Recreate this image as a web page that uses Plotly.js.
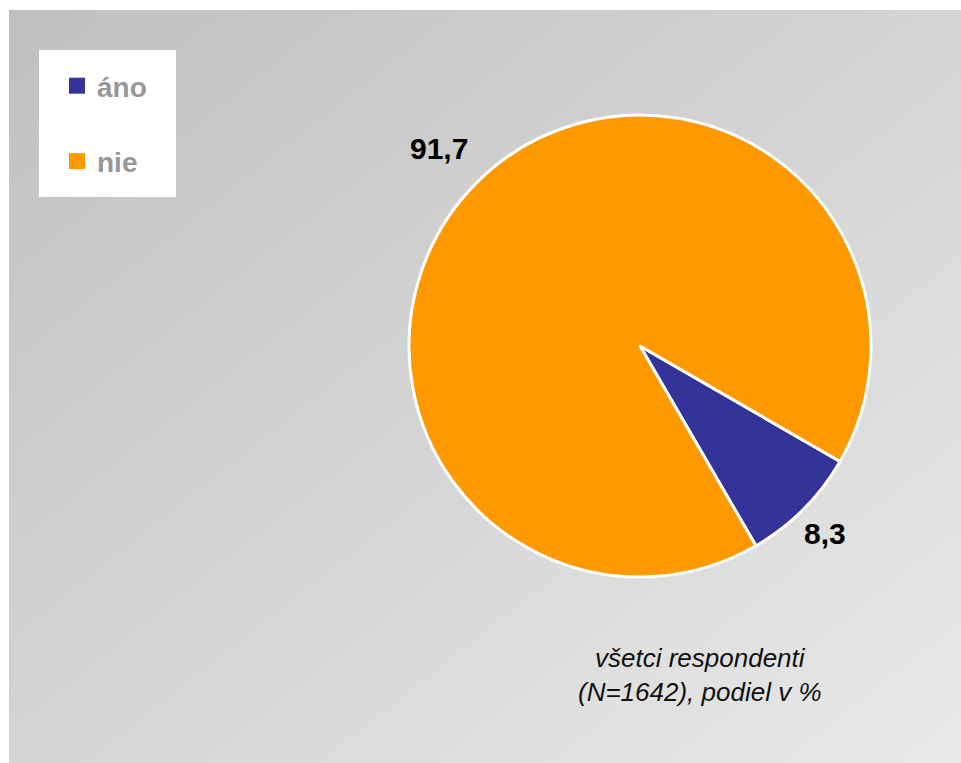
<!DOCTYPE html>
<html>
<head>
<meta charset="utf-8">
<script src="https://cdn.plot.ly/plotly-3.0.1.min.js"></script>
<style>
  html, body { margin: 0; padding: 0; background: #ffffff; }
  #bg { position: absolute; left: 9px; top: 10px; width: 952px; height: 753px;
        background: linear-gradient(to bottom right, #c0c0c0, #e9e9e9); }
  #chart { position: absolute; left: 0; top: 0; width: 961px; height: 763px; }
</style>
</head>
<body>
<div id="bg"></div>
<div id="chart"></div>
<script>
// Data
const categories = ['áno', 'nie'];
const values = [8.3, 91.7];
const colors = ['#333399', '#FF9900'];
const noteText = 'všetci respondenti<br>(N=1642), podiel v %';

const W = 961, H = 763;
const FONT = 'Liberation Sans, Arial, Helvetica, sans-serif';

// pie geometry (pixels)
const PCX = 640, PCY = 346, PR = 231;
const ROTATION = 120;       // degrees clockwise from 12 o'clock where first slice starts
const LABEL_DIST = 1.18;    // label centre distance as a fraction of the radius

const pie = {
  type: 'pie',
  labels: categories,
  values: values,
  sort: false,
  direction: 'clockwise',
  rotation: ROTATION,
  marker: { colors: colors, line: { color: '#ffffff', width: 3 } },
  textinfo: 'none',
  domain: { x: [(PCX - PR) / W, (PCX + PR) / W], y: [(H - PCY - PR) / H, (H - PCY + PR) / H] },
  showlegend: false,
  hoverinfo: 'label+value'
};

// value labels placed at each slice's mid-angle, computed from the data
const total = values.reduce((a, b) => a + b, 0);
let cum = 0;
const labelAnnotations = values.map((v) => {
  const midDeg = ROTATION + (cum + v / 2) / total * 360; // clockwise from top
  cum += v;
  const a = midDeg * Math.PI / 180;
  const px = PCX + PR * LABEL_DIST * Math.sin(a);
  const py = PCY - PR * LABEL_DIST * Math.cos(a);
  return {
    xref: 'paper', yref: 'paper', x: px / W, y: 1 - py / H,
    xanchor: 'center', yanchor: 'middle', showarrow: false,
    xshift: -8, yshift: 5,
    text: v.toFixed(1).replace('.', ','),
    font: { family: FONT, size: 30, color: '#000000', weight: 'bold' }
  };
});

// legend entries (one per category)
const legendTraces = categories.map((c, i) => ({
  type: 'scatter',
  x: [null], y: [null],
  mode: 'markers',
  name: c,
  legendgroup: 'g' + i,
  marker: { symbol: 'square', size: 16, color: colors[i] },
  hoverinfo: 'skip',
  showlegend: true
}));

const layout = {
  width: W, height: H,
  margin: { l: 0, r: 0, t: 0, b: 0 },
  paper_bgcolor: 'rgba(0,0,0,0)',
  plot_bgcolor: 'rgba(0,0,0,0)',
  separators: ', ',
  xaxis: { visible: false },
  yaxis: { visible: false },
  showlegend: true,
  legend: {
    x: 57 / W, y: 1 - 61 / H, xanchor: 'left', yanchor: 'top',
    bgcolor: 'rgba(0,0,0,0)', borderwidth: 0,
    traceorder: 'grouped', tracegroupgap: 36,
    font: { family: FONT, size: 28, color: '#979797', weight: 'bold' },
    itemclick: false, itemdoubleclick: false
  },
  shapes: [{
    type: 'rect', xref: 'paper', yref: 'paper',
    x0: 39 / W, x1: 176 / W, y0: 1 - 197 / H, y1: 1 - 50 / H,
    fillcolor: '#ffffff', line: { width: 0 }, layer: 'below'
  }],
  annotations: labelAnnotations.concat([{
    xref: 'paper', yref: 'paper', x: 700 / W, y: 1 - 675 / H,
    xanchor: 'center', yanchor: 'middle', showarrow: false, align: 'center',
    text: noteText,
    font: { family: FONT, size: 26, color: '#111111', style: 'italic' }
  }])
};

Plotly.newPlot('chart', [pie].concat(legendTraces), layout, { displayModeBar: false, staticPlot: true });
</script>
</body>
</html>
